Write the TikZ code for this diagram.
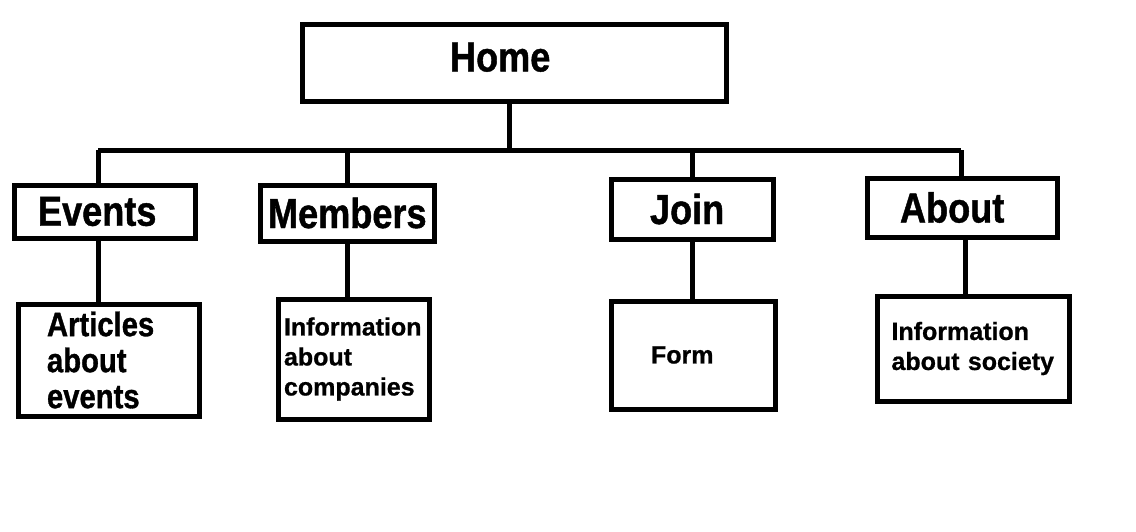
\documentclass[tikz,border=0pt]{standalone}
\usepackage{fontspec}
\setmainfont{Liberation Sans}
\newfontfamily\tallfont{Liberation Sans Bold}[FakeStretch=0.86, FakeBold=1]
\newfontfamily\heavyfont{Liberation Sans Bold}[FakeBold=0.8]
\usepackage{tikz}

\tikzset{
	box/.style={draw, line width=5pt, align=left, inner ysep=0pt, font=\tallfont\fontsize{42}{50}\selectfont},
	small/.style={font=\heavyfont\fontsize{25}{30}\selectfont},
	link/.style={line width=5pt}
}

\begin{document}
\begin{tikzpicture}[x=1pt,y=-1pt]
		\useasboundingbox (0,0) rectangle (1136,531);
		\node (H) [box, minimum width=424pt, minimum height=77pt, text width=128pt, inner xsep=148pt, text depth=11pt] at (514,62.5) {Home};
		\node (E) [box, minimum width=181pt, minimum height=53pt, text width=133pt, inner xsep=24pt] at (104.5,211.5) {Events};
		\node (M) [box, minimum width=174pt, minimum height=56pt, text width=158pt, inner xsep=8pt] at (347,213) {Members};
		\node (J) [box, minimum width=162pt, minimum height=60pt, text width=84pt, inner xsep=39pt] at (692,209) {Join};
		\node (A) [box, minimum width=190pt, minimum height=59pt, text width=124pt, inner xsep=33pt] at (962,207.5) {About};
		\node (E1) [box, font=\tallfont\fontsize{34}{36}\selectfont, minimum width=181pt, minimum height=112pt, text width=123pt, inner xsep=29pt] at (108.5,360) {Articles\\about\\events};
		\node (M1) [box, small, minimum width=151pt, minimum height=120pt, text width=139pt, inner xsep=6pt] at (353.5,359) {Information\\about\\companies};
		\node (J1) [box, small, minimum width=164pt, minimum height=108pt, text width=84pt, inner xsep=40pt] at (693,355) {Form};
		\node (A1) [box, small, minimum width=192pt, minimum height=105pt, text width=163pt, inner xsep=14pt] at (973,348.5) {Information\\about society};
		\coordinate (T) at (509,150);
		\coordinate (L) at (98,150);
		\coordinate (R) at (961,150);
		\draw[link] (H.south -| T) -- (T);
		\draw[link] (L) -- (R);
		\draw[link] (L) -- (L |- E.north);
		\draw[link] (M.north |- L) -- (M.north);
		\draw[link] (J.north |- L) -- (J.north);
		\draw[link] (R) -- (R |- A.north);
		\draw[link] (E.south -| L) -- (E1.north -| L);
		\draw[link] (M.south) -- (M.south |- M1.north);
		\draw[link] (J.south) -- (J.south |- J1.north);
		\draw[link] ([xshift=3pt]A.south) -- ([xshift=3pt]A.south |- A1.north);
\end{tikzpicture}
\end{document}
